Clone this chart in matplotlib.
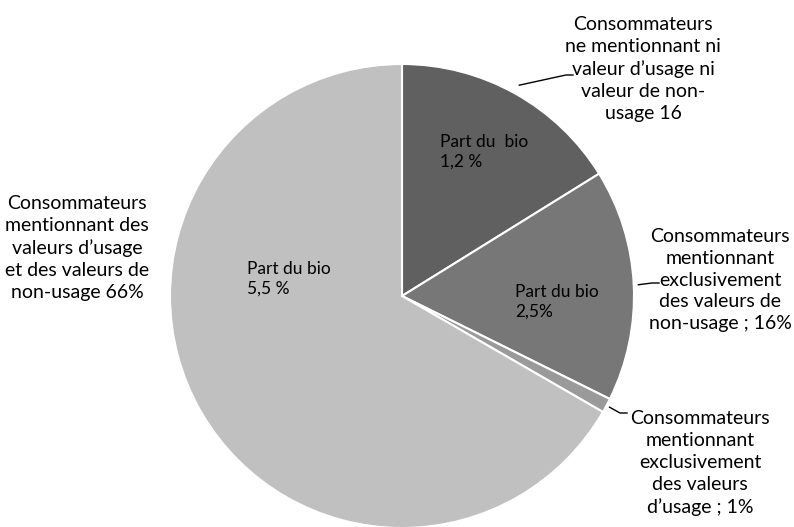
import matplotlib
matplotlib.use("Agg")
import matplotlib.pyplot as plt
import numpy as np

# Data
categories = [
    "Consommateurs\nne mentionnant ni\nvaleur d’usage ni\nvaleur de non-\nusage 16",
    "Consommateurs\nmentionnant\nexclusivement\ndes valeurs de\nnon-usage ; 16%",
    "Consommateurs\nmentionnant\nexclusivement\ndes valeurs\nd’usage ; 1%",
    "Consommateurs\nmentionnant des\nvaleurs d’usage\net des valeurs de\nnon-usage 66%",
]
values = [16, 16, 1, 66]
bio_labels = ["Part du  bio\n1,2 %", "Part du bio\n2,5%", None, "Part du bio\n5,5 %"]
colors = ["#606060", "#777777", "#9a9a9a", "#c0c0c0"]

plt.rcParams['font.family'] = ['Lato', 'DejaVu Sans']

W, H = 794, 527
fig = plt.figure(figsize=(W / 100, H / 100), dpi=100)
ax = fig.add_axes([0, 0, 1, 1])

cx, cy, R = 402, H - 296, 232
wedges, _ = ax.pie(values, colors=colors, startangle=90, counterclock=False,
                   center=(cx, cy), radius=R,
                   wedgeprops=dict(edgecolor="white", linewidth=1.5))
ax.set_xlim(0, W)
ax.set_ylim(0, H)
ax.set_aspect('equal')
ax.axis('off')

# outer label positions (pixel coords, y from top) and leader end points
label_pos = [(643, 69), (720, 280), (700, 463), (77, 248)]
leader_end = [(566, 75), (652, 283), (620, 413), None]
leader_r = [1.04, 1.02, 1.015, None]
for w, lab, (lx, ly), le, lr in zip(wedges, categories, label_pos, leader_end, leader_r):
    ax.text(lx, H - ly, lab, ha='center', va='center', fontsize=14,
            linespacing=1.35, color='black')
    if le is not None:
        mid = np.deg2rad((w.theta1 + w.theta2) / 2)
        sx, sy = cx + R * lr * np.cos(mid), cy + R * lr * np.sin(mid)
        ex, ey = le[0], H - le[1]
        ax.plot([sx, ex, ex + 7], [sy, ey, ey], color='black', lw=1)

inner_pos = [(440, 152), (515, 302), None, (247, 279)]
for lab, pos in zip(bio_labels, inner_pos):
    if lab is None:
        continue
    ax.text(pos[0], H - pos[1], lab, ha='left', va='center', fontsize=12.5,
            linespacing=1.3, color='black')

fig.savefig("out.png", dpi=100)
